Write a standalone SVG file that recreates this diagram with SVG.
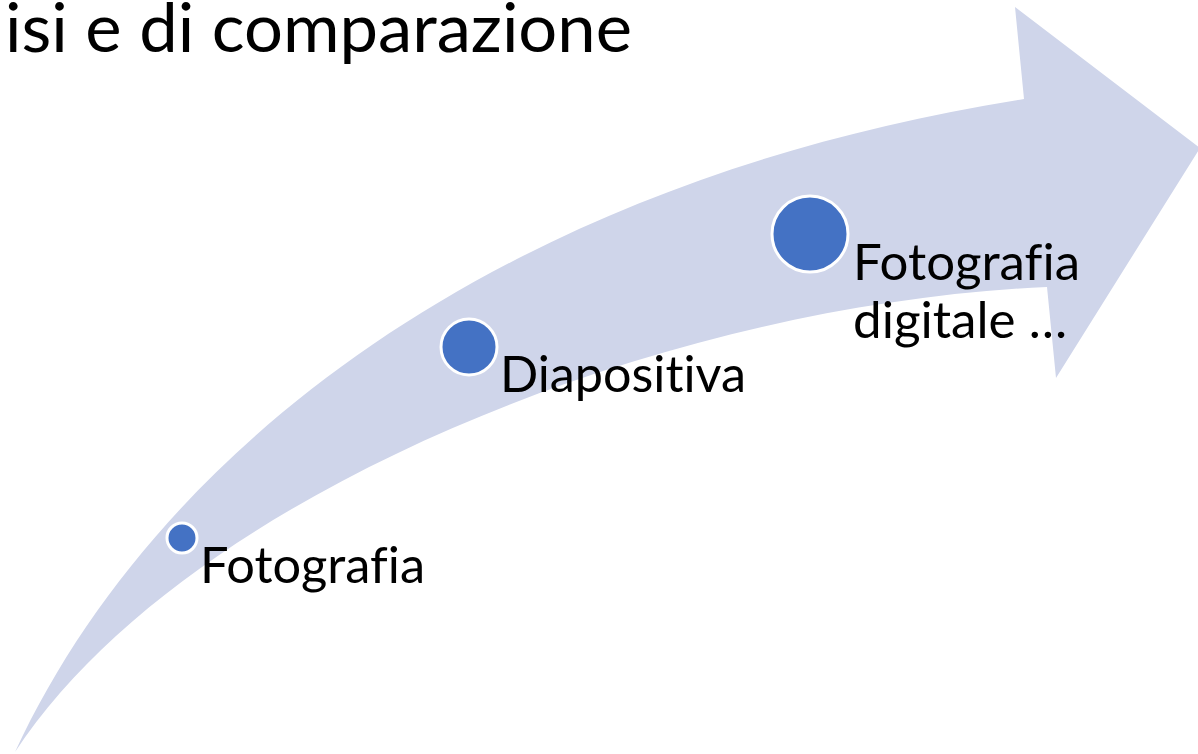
<svg xmlns="http://www.w3.org/2000/svg" width="1198" height="754" viewBox="0 0 1198 754">
<style>
.lbl{font-family:Lato,"Open Sans","Liberation Sans",sans-serif;font-size:50px;fill:#000;font-variant-ligatures:none}
.title{font-family:Lato,"Open Sans","Liberation Sans",sans-serif;font-size:68px;fill:#000;font-variant-ligatures:none}
.dot{fill:#4472C4;stroke:#FFFFFF;stroke-width:3}
</style>
<rect width="1198" height="754" fill="#FFFFFF"/>
<text class="title" x="5" y="52" textLength="627" lengthAdjust="spacingAndGlyphs">isi e di comparazione</text>
<g id="arrow">
<path d="M15,752 C160,440 510,180 1024,99 L1015,7 L1200,148 L1056,378 L1047,287 C650,305 180,500 15,752 Z" fill="#CFD5EA"/>
</g>
<g id="connectors"></g>
<g id="node-fotografia">
<circle class="dot" cx="182" cy="538" r="15"/>
<text class="lbl" x="200" y="583" textLength="225" lengthAdjust="spacingAndGlyphs">Fotografia</text>
</g>
<g id="node-diapositiva">
<circle class="dot" cx="469" cy="347" r="28"/>
<text class="lbl" x="500" y="392" textLength="246" lengthAdjust="spacingAndGlyphs">Diapositiva</text>
</g>
<g id="node-digitale">
<circle class="dot" cx="810" cy="234" r="38"/>
<text class="lbl" x="853" y="280" textLength="227" lengthAdjust="spacingAndGlyphs">Fotografia</text>
<text class="lbl" x="853" y="338" textLength="214" lengthAdjust="spacingAndGlyphs">digitale …</text>
</g>
</svg>
